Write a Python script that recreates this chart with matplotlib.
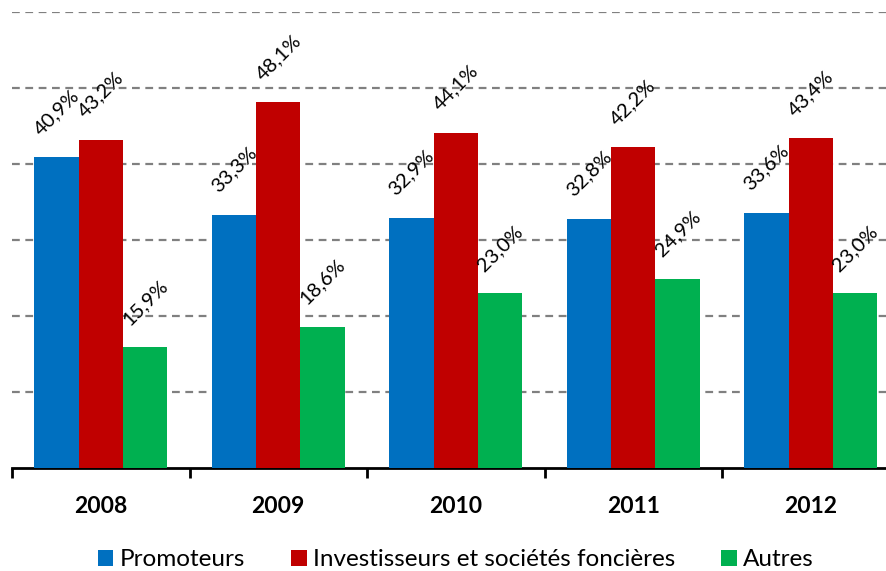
import matplotlib.pyplot as plt
import numpy as np

plt.rcParams['font.family'] = ['Lato', 'DejaVu Sans']

years = ["2008", "2009", "2010", "2011", "2012"]
promoteurs = [40.9, 33.3, 32.9, 32.8, 33.6]
investisseurs = [43.2, 48.1, 44.1, 42.2, 43.4]
autres = [15.9, 18.6, 23.0, 24.9, 23.0]

series = [
    ("Promoteurs", promoteurs, "#0070C0"),
    ("Investisseurs et sociétés foncières", investisseurs, "#C00000"),
    ("Autres", autres, "#00B050"),
]

fig = plt.figure(figsize=(8.87, 5.71), dpi=100)
ax = fig.add_axes([12 / 887, 103 / 571, 887.5 / 887, 456 / 571])

x = np.arange(len(years))
w = 0.25
for i, (name, vals, col) in enumerate(series):
    pos = x + (i - 1) * w
    ax.bar(pos, vals, width=w, color=col, label=name, zorder=3)
    for px, v in zip(pos, vals):
        ax.annotate(f"{v:.1f}%".replace(".", ","), (px, v), xytext=(0, 45),
                    textcoords="offset pixels", ha="center", va="center",
                    rotation=45, fontsize=14.5, zorder=4)

ax.set_ylim(0, 60)
ax.set_xlim(-0.5, len(years) - 0.5)
ax.set_yticks(np.arange(10, 61, 10))
ax.yaxis.grid(True, color="#808080", linestyle=(0, (3.5, 2.5)), linewidth=1.6, zorder=0)
ax.tick_params(axis="y", left=False, labelleft=False)

ax.set_xticks(x)
ax.set_xticklabels(years, fontsize=16.5, fontweight="bold")
ax.tick_params(axis="x", which="major", length=0, pad=20)
ax.set_xticks(np.arange(-0.5, len(years)), minor=True)
ax.tick_params(axis="x", which="minor", length=7, width=2, color="black")

for s in ["top", "right", "left"]:
    ax.spines[s].set_visible(False)
ax.spines["bottom"].set_linewidth(2)

leg = ax.legend(loc="upper center", bbox_to_anchor=(0.5, -0.13), ncol=3,
                frameon=False, fontsize=17.5, handlelength=0.65, handleheight=0.65,
                handletextpad=0.25, columnspacing=1.9)

fig.savefig("out.png", dpi=100)
